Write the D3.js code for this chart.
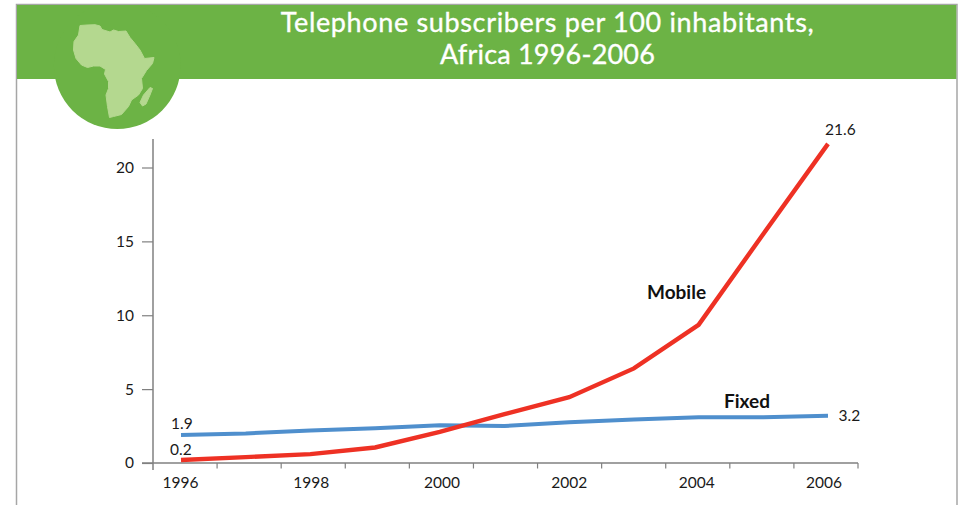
<!DOCTYPE html>
<html>
<head>
<meta charset="utf-8">
<script src="https://cdn.jsdelivr.net/npm/d3@7/dist/d3.min.js"></script>
<style>
html,body{margin:0;padding:0;background:#fff}
svg{display:block}
text{font-family:Lato,"Open Sans",sans-serif}
</style>
</head>
<body>
<svg id="chart" width="961" height="505"></svg>
<script>
const years = [1996,1997,1998,1999,2000,2001,2002,2003,2004,2005,2006];
const mobile = [0.2,0.4,0.6,1.05,2.1,3.3,4.45,6.4,9.35,15.5,21.6];
const fixed = [1.9,2.0,2.2,2.35,2.55,2.5,2.75,2.95,3.1,3.1,3.2];
const yTicks = [0,5,10,15,20];
const yearLabels = [1996,1998,2000,2002,2004,2006];
const titleLines = ["Telephone subscribers per 100 inhabitants,","Africa 1996-2006"];
const titleSpacing = [0.65,0.2];

// Continent silhouette for the badge, in badge units
const africa = [[80,25.5],[87,25],[95,24.7],[100,26],[102,29.5],[110,32],[113.5,30],[118.5,31.5],[126,31],[130,37.5],[135,43.5],[140,50],[144.5,58.5],[154,57.5],[152.5,63.5],[146.5,70.5],[141.5,78.5],[142.5,88.5],[138.5,95],[131.5,100],[128.5,106.5],[121.5,114.5],[113.5,116.5],[109.5,117.5],[107.5,106.5],[106,95],[108.5,88.5],[108.5,81.5],[104.5,74],[105.5,69.5],[100,66],[93.5,66],[87.5,67.5],[81.5,65],[76,58.5],[73.5,50],[74,41.5],[78.5,35]];
const madagascar = [[150,87.5],[152.5,88.5],[150,95],[146,104],[142.5,106],[140,102.5],[143.5,95]];

const svg = d3.select("#chart");

const x = d3.scaleLinear().domain([1996,2006]).range([181,828]);
const y = d3.scaleLinear().domain([0,20]).range([463,167.5]);
const xBand = d3.scaleBand().domain(years).range([153,858]);
const xLabel = d3.scaleLinear().domain([1996,2000,2006]).range([180.5,442,824]);

// Frame
svg.append("path").attr("d","M16.5,505V4.5H957V505").attr("fill","none").attr("stroke","#a6a6a6").attr("stroke-width",1.5);

// Header band and badge; the badge is cut off at the top of the band
svg.append("clipPath").attr("id","band-top").append("rect").attr("x",0).attr("y",5).attr("width",961).attr("height",500);
svg.append("rect").attr("x",17).attr("y",5).attr("width",939.3).attr("height",74).attr("fill","#6cb345");
svg.append("circle").attr("cx",117.3).attr("cy",65.6).attr("r",63.4).attr("fill","#6cb345").attr("clip-path","url(#band-top)");
const outline = d3.line().curve(d3.curveLinearClosed);
svg.append("path").attr("d",outline(africa)).attr("fill","#b4d88f").attr("stroke","#b4d88f").attr("stroke-width",1).attr("stroke-linejoin","round");
svg.append("path").attr("d",outline(madagascar)).attr("fill","#b4d88f").attr("stroke","#b4d88f").attr("stroke-width",1).attr("stroke-linejoin","round");

svg.selectAll(".title").data(titleLines).join("text").attr("class","title")
  .attr("x",547.5).attr("y",(d,i)=>32+i*32)
  .attr("text-anchor","middle").attr("fill","#fff").attr("stroke","#fff").attr("stroke-width",0.35)
  .attr("font-size",27).attr("letter-spacing",(d,i)=>titleSpacing[i]).text(d=>d);

// Axes
const yAxis = d3.axisLeft(y).tickValues(yTicks).tickSize(11).tickSizeOuter(0).tickPadding(8);
const gy = svg.append("g").attr("transform","translate(153,0)").call(yAxis);
gy.select(".domain").attr("d","M0,139V470").attr("stroke","#808080").attr("stroke-width",1.5);
gy.selectAll(".tick line").attr("stroke","#808080").attr("stroke-width",1.2);
gy.selectAll(".tick text").attr("font-size",15.5).attr("fill","#1a1a1a").attr("font-family","Lato");

const boundaries = years.map(d=>xBand(d)).concat(xBand.range()[1]);
svg.append("line").attr("x1",142).attr("x2",858).attr("y1",463).attr("y2",463).attr("stroke","#808080").attr("stroke-width",1.5);
svg.selectAll(".xtick").data(boundaries.slice(1)).join("line").attr("class","xtick")
  .attr("x1",d=>d).attr("x2",d=>d).attr("y1",463).attr("y2",468.5)
  .attr("stroke","#808080").attr("stroke-width",1.2);
svg.selectAll(".xlabel").data(yearLabels).join("text").attr("class","xlabel")
  .attr("x",d=>xLabel(d)).attr("y",488).attr("text-anchor","middle")
  .attr("font-size",15.5).attr("fill","#1a1a1a").text(d=>d);

// Series lines
const line = d3.line().x((d,i)=>x(years[i])).y(d=>y(d));
svg.append("path").attr("d",line(fixed)).attr("fill","none").attr("stroke","#4f8fcd").attr("stroke-width",4);
svg.append("path").attr("d",line(mobile)).attr("fill","none").attr("stroke","#ee3124").attr("stroke-width",4.4);

// Value and series labels
const valueLabels = [
  {t:fixed[0],x:171,y:429},
  {t:mobile[0],x:170,y:455},
  {t:fixed[10],x:838.5,y:421},
  {t:mobile[10],x:825,y:135}
];
svg.selectAll(".val").data(valueLabels).join("text").attr("class","val")
  .attr("x",d=>d.x).attr("y",d=>d.y).attr("font-size",15.5).attr("fill","#1a1a1a").text(d=>d.t);
const seriesLabels = [{t:"Mobile",x:647,y:299},{t:"Fixed",x:724,y:408}];
svg.selectAll(".ser").data(seriesLabels).join("text").attr("class","ser")
  .attr("x",d=>d.x).attr("y",d=>d.y).attr("font-size",19).attr("font-weight",700).attr("fill","#111").text(d=>d.t);
</script>
</body>
</html>
